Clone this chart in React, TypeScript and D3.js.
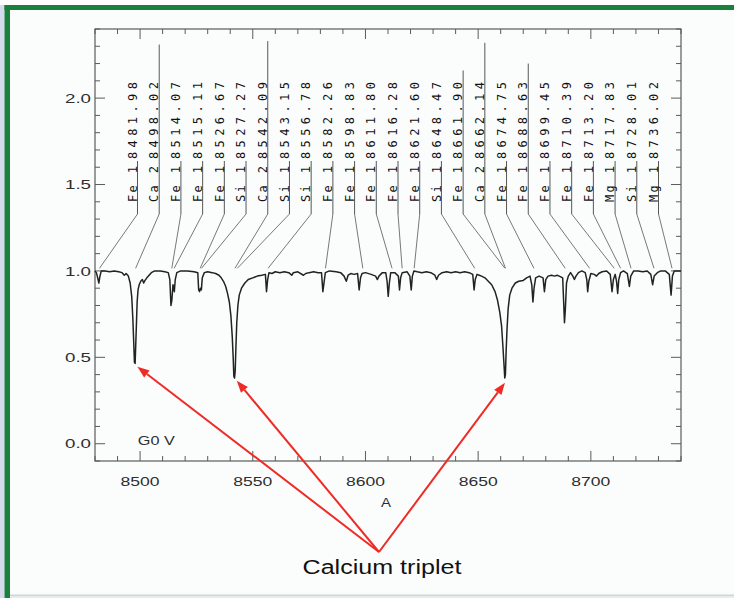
import React from 'react';
import * as d3 from 'd3';

// Spectrum of a G0 V star around the Ca II triplet: [wavelength (Å), normalised flux]
const spectrum: [number, number][] = [
  [8480.0, 1.0], [8480.6, 0.99], [8481.2, 0.96], [8481.7, 0.93], [8482.2, 0.97], [8482.8, 1.0],
  [8484.5, 1.0], [8486.5, 0.995], [8488.5, 1.0], [8490.5, 0.995], [8492.0, 0.99], [8493.0, 0.975],
  [8493.8, 0.985], [8494.8, 0.97], [8495.6, 0.93], [8496.3, 0.85], [8496.8, 0.72], [8497.2, 0.58],
  [8497.5, 0.47], [8497.8, 0.465], [8498.1, 0.58], [8498.4, 0.7], [8498.7, 0.82], [8499.1, 0.89],
  [8499.6, 0.92], [8500.3, 0.94], [8501.0, 0.95], [8501.6, 0.93], [8502.2, 0.945], [8503.0, 0.96],
  [8504.0, 0.975], [8505.0, 0.99], [8506.5, 1.0], [8509.0, 1.0], [8511.0, 0.995], [8512.5, 0.99],
  [8513.2, 0.95], [8513.7, 0.8], [8514.1, 0.83], [8514.6, 0.92], [8515.2, 0.88], [8515.6, 0.95],
  [8516.3, 0.99], [8518.0, 1.0], [8521.0, 1.0], [8524.0, 0.995], [8525.6, 0.99], [8526.0, 0.89],
  [8526.4, 0.88], [8526.8, 0.9], [8527.2, 0.89], [8527.6, 0.96], [8528.5, 0.99], [8530.0, 0.995],
  [8532.0, 0.99], [8533.5, 0.985], [8535.0, 0.975], [8536.0, 0.96], [8537.0, 0.94], [8538.0, 0.91],
  [8538.8, 0.87], [8539.6, 0.82], [8540.3, 0.74], [8540.9, 0.62], [8541.3, 0.5], [8541.6, 0.39],
  [8541.9, 0.38], [8542.2, 0.42], [8542.5, 0.55], [8542.9, 0.7], [8543.4, 0.8], [8544.0, 0.86],
  [8545.0, 0.9], [8546.5, 0.93], [8548.0, 0.95], [8550.0, 0.96], [8552.0, 0.97], [8554.0, 0.975],
  [8555.6, 0.98], [8556.1, 0.88], [8556.6, 0.95], [8557.2, 0.99], [8558.5, 0.985], [8560.0, 0.995],
  [8562.0, 0.99], [8564.0, 0.995], [8566.0, 0.99], [8567.3, 0.975], [8568.0, 0.99], [8570.0, 0.995],
  [8572.5, 0.975], [8573.5, 0.985], [8575.0, 0.99], [8577.0, 0.995], [8579.0, 0.99], [8580.5, 0.99],
  [8581.1, 0.88], [8581.6, 0.93], [8582.2, 0.99], [8584.0, 1.0], [8587.0, 0.995], [8589.0, 0.99],
  [8590.5, 0.97], [8591.5, 0.94], [8592.3, 0.975], [8593.5, 0.985], [8595.0, 0.98], [8596.5, 0.985],
  [8597.2, 0.89], [8597.8, 0.96], [8598.5, 0.985], [8600.0, 0.99], [8602.5, 0.98], [8604.5, 0.97],
  [8605.3, 0.95], [8606.0, 0.97], [8607.5, 0.99], [8609.0, 0.99], [8609.6, 0.94], [8610.1, 0.853],
  [8610.6, 0.93], [8611.2, 0.99], [8613.0, 0.99], [8614.6, 0.97], [8615.1, 0.89], [8615.6, 0.96],
  [8616.3, 0.99], [8618.5, 0.995], [8619.7, 0.97], [8620.3, 0.89], [8620.8, 0.97], [8621.5, 1.0],
  [8623.0, 0.995], [8625.0, 0.99], [8627.0, 0.995], [8629.0, 0.99], [8630.8, 0.975], [8631.6, 0.95],
  [8632.4, 0.975], [8634.0, 0.99], [8636.0, 0.995], [8638.0, 0.99], [8640.0, 0.995], [8642.0, 0.99],
  [8644.0, 0.995], [8646.0, 0.99], [8647.6, 0.98], [8648.2, 0.89], [8648.7, 0.95], [8649.5, 0.98],
  [8650.5, 0.975], [8651.5, 0.97], [8653.0, 0.96], [8654.5, 0.94], [8656.0, 0.92], [8657.5, 0.88],
  [8658.6, 0.83], [8659.6, 0.76], [8660.4, 0.68], [8661.0, 0.56], [8661.5, 0.45], [8661.8, 0.38],
  [8662.1, 0.4], [8662.4, 0.53], [8662.8, 0.66], [8663.3, 0.78], [8664.0, 0.86], [8665.0, 0.9],
  [8666.5, 0.93], [8668.0, 0.94], [8670.0, 0.945], [8671.5, 0.96], [8673.0, 0.97], [8673.8, 0.92],
  [8674.3, 0.82], [8674.8, 0.9], [8675.5, 0.96], [8677.0, 0.97], [8678.8, 0.96], [8679.4, 0.88],
  [8680.0, 0.95], [8681.0, 0.97], [8682.5, 0.975], [8684.0, 0.97], [8685.0, 0.975], [8686.0, 0.97],
  [8687.5, 0.96], [8688.0, 0.8], [8688.3, 0.7], [8688.7, 0.78], [8689.2, 0.93], [8690.0, 0.97],
  [8691.0, 0.99], [8692.0, 0.97], [8692.7, 0.95], [8693.4, 0.97], [8694.5, 0.99], [8696.0, 1.0],
  [8697.5, 0.99], [8698.2, 0.95], [8698.6, 0.88], [8699.1, 0.94], [8700.0, 0.985], [8701.5, 0.98],
  [8702.5, 0.97], [8703.5, 0.985], [8705.0, 0.995], [8707.0, 1.0], [8708.6, 0.98], [8709.4, 0.88],
  [8710.0, 0.95], [8710.8, 0.98], [8711.4, 0.94], [8711.9, 0.87], [8712.4, 0.95], [8713.2, 0.99],
  [8714.5, 1.0], [8716.2, 0.985], [8717.1, 0.91], [8717.7, 0.97], [8719.0, 1.0], [8721.0, 1.0],
  [8723.0, 0.995], [8725.0, 1.0], [8726.6, 0.98], [8727.4, 0.92], [8728.1, 0.97], [8729.5, 0.99],
  [8731.0, 1.0], [8733.0, 1.0], [8734.8, 0.98], [8735.6, 0.86], [8736.2, 0.97], [8737.0, 1.0],
  [8740.0, 1.0],
];

// Line identifications
const lineElements = [
  'Fe 1', 'Ca 2', 'Fe 1', 'Fe 1', 'Fe 1', 'Si 1', 'Ca 2', 'Si 1', 'Si 1', 'Fe 1', 'Fe 1', 'Fe 1', 'Fe 1',
  'Fe 1', 'Si 1', 'Fe 1', 'Ca 2', 'Fe 1', 'Fe 1', 'Fe 1', 'Fe 1', 'Fe 1', 'Mg 1', 'Si 1', 'Mg 1',
];
const lineWaves = [
  8481.98, 8498.02, 8514.07, 8515.11, 8526.67, 8527.27, 8542.09, 8543.15, 8556.78, 8582.26, 8598.83,
  8611.8, 8616.28, 8621.6, 8648.47, 8661.9, 8662.14, 8674.75, 8688.63, 8699.45, 8710.39, 8713.2,
  8717.83, 8728.01, 8736.02,
];
// top of the marker for strong lines (flux units); null = normal marker
const lineMarkTop: (number | null)[] = [
  null, 2.31, null, null, null, null, 2.33, null, null, null, null, null, null,
  null, null, 2.16, 2.32, null, 2.2, null, null, null, null, null, null,
];

const xMajorTicks = [8500, 8550, 8600, 8650, 8700];
const xTickLabels = ['8500', '8550', '8600', '8650', '8700'];
const yMajorTicks = [0, 0.5, 1.0, 1.5, 2.0];
const yTickLabels = ['0.0', '0.5', '1.0', '1.5', '2.0'];

// Calcium triplet arrow tips [wavelength, flux]
const arrowTips: [number, number][] = [
  [8498.8, 0.446],
  [8542.9, 0.365],
  [8661.9, 0.353],
];

const W = 734;
const H = 598;
const plot = { left: 95, right: 681, top: 29, bottom: 461 };

export default function App() {
  const x = d3.scaleLinear().domain([8480, 8740]).range([plot.left, plot.right]);
  const y = d3.scaleLinear().domain([-0.1, 2.4]).range([plot.bottom, plot.top]);

  const line = d3
    .line<[number, number]>()
    .x((d) => x(d[0]))
    .y((d) => y(d[1]));

  const xMinor = d3.range(8480, 8741, 10).filter((v) => v % 50 !== 0);
  const yMinor = d3
    .range(-1, 25)
    .map((v) => v / 10)
    .filter((v) => Math.abs((v * 10) % 5) > 1e-6);

  const slot = d3
    .scalePoint<number>()
    .domain(lineWaves.map((_, i) => i))
    .range([137.5, 658.5]);

  const axisColor = '#5a5a5a';
  const labelBottom = 214;
  const labelTextStart = 202;
  const numStart = 159;
  const markTopDefault = 161;
  const lineEndY = y(1.015);

  const apex = { x: 379, y: 552 };
  const red = '#ee2b25';

  return (
    <svg
      width={W}
      height={H}
      style={{ position: 'absolute', left: 0, top: 0, display: 'block' }}
      xmlns="http://www.w3.org/2000/svg"
    >
      {/* slide frame */}
      <rect x={0} y={0} width={W} height={H} fill="#fbfdfd" />
      <rect x={0} y={0} width={W} height={5} fill="#ffffff" />
      <rect x={0} y={5} width={4.5} height={H - 5} fill="#d6daee" />
      <rect x={4.5} y={5} width={W - 4.5} height={5} fill="#1b7f3d" />
      <rect x={4.5} y={5} width={5.5} height={H - 5} fill="#1b7f3d" />
      <rect x={10} y={594.5} width={W - 10} height={1.5} fill="#cdd8d6" />
      <rect x={10} y={596} width={W - 10} height={2} fill="#e6ecec" />

      {/* plot frame */}
      <rect
        x={plot.left}
        y={plot.top}
        width={plot.right - plot.left}
        height={plot.bottom - plot.top}
        fill="none"
        stroke={axisColor}
        strokeWidth={1.2}
      />

      {/* x ticks (bottom and top) and y ticks (left and right) */}
      <g stroke={axisColor} strokeWidth={1}>
        {xMajorTicks.map((v) => (
          <g key={`xM${v}`}>
            <line x1={x(v)} x2={x(v)} y1={plot.bottom} y2={plot.bottom - 10} />
            <line x1={x(v)} x2={x(v)} y1={plot.top} y2={plot.top + 10} />
          </g>
        ))}
        {xMinor.map((v) => (
          <g key={`xm${v}`}>
            <line x1={x(v)} x2={x(v)} y1={plot.bottom} y2={plot.bottom - 5} />
            <line x1={x(v)} x2={x(v)} y1={plot.top} y2={plot.top + 5} />
          </g>
        ))}
        {yMajorTicks.map((v) => (
          <g key={`yM${v}`}>
            <line x1={plot.left} x2={plot.left + 10} y1={y(v)} y2={y(v)} />
            <line x1={plot.right} x2={plot.right - 10} y1={y(v)} y2={y(v)} />
          </g>
        ))}
        {yMinor.map((v) => (
          <g key={`ym${v}`}>
            <line x1={plot.left} x2={plot.left + 5} y1={y(v)} y2={y(v)} />
            <line x1={plot.right} x2={plot.right - 5} y1={y(v)} y2={y(v)} />
          </g>
        ))}
      </g>

      {/* tick labels */}
      <g fontFamily="'Liberation Sans', Arial, sans-serif" fontSize={13} fill="#2e2e2e">
        {xMajorTicks.map((v, i) => (
          <text
            key={`xl${v}`}
            x={x(v)}
            y={486}
            textAnchor="middle"
            textLength={39}
            lengthAdjust="spacingAndGlyphs"
          >
            {xTickLabels[i]}
          </text>
        ))}
        {yMajorTicks.map((v, i) => (
          <text
            key={`yl${v}`}
            x={91}
            y={y(v)}
            dy="0.36em"
            textAnchor="end"
            textLength={26}
            lengthAdjust="spacingAndGlyphs"
          >
            {yTickLabels[i]}
          </text>
        ))}
        <text x={386} y={507} textAnchor="middle" textLength={10} lengthAdjust="spacingAndGlyphs">
          A
        </text>
        <text x={x(8499)} y={y(0) + 1.5} textLength={37} lengthAdjust="spacingAndGlyphs">
          G0 V
        </text>
      </g>

      {/* line identifications */}
      <g fontFamily="'DejaVu Sans Mono', monospace" fontSize={12} fill="#111">
        {lineWaves.map((wl, i) => {
          const sx = slot(i) as number;
          const top = lineMarkTop[i] != null ? y(lineMarkTop[i] as number) : markTopDefault;
          return (
            <g key={`lab${i}`}>
              <line x1={sx} x2={sx} y1={labelBottom} y2={top} stroke="#444" strokeWidth={0.9} />
              <line x1={sx} x2={x(wl)} y1={labelBottom} y2={lineEndY} stroke="#555" strokeWidth={0.8} />
              <text
                transform={`translate(${sx - 0.8},${labelTextStart}) rotate(-90)`}
                textLength={36}
                lengthAdjust="spacing"
              >
                {lineElements[i]}
              </text>
              <text
                transform={`translate(${sx - 0.8},${numStart}) rotate(-90)`}
                textLength={77}
                lengthAdjust="spacing"
              >
                {wl.toFixed(2)}
              </text>
            </g>
          );
        })}
      </g>

      {/* spectrum */}
      <path d={line(spectrum) as string} fill="none" stroke="#222" strokeWidth={1.5} strokeLinejoin="round" />

      {/* Calcium triplet annotation */}
      <g>
        {arrowTips.map((t, i) => {
          const tx = x(t[0]);
          const ty = y(t[1]);
          const ang = Math.atan2(ty - apex.y, tx - apex.x);
          const len = 12;
          const half = 4.5;
          const bx = tx - len * Math.cos(ang);
          const by = ty - len * Math.sin(ang);
          const px = -Math.sin(ang);
          const py = Math.cos(ang);
          return (
            <g key={`arr${i}`}>
              <line x1={apex.x} y1={apex.y} x2={bx} y2={by} stroke={red} strokeWidth={2} />
              <path
                d={`M${tx},${ty}L${bx + px * half},${by + py * half}L${bx - px * half},${by - py * half}Z`}
                fill={red}
              />
            </g>
          );
        })}
        <text
          x={382}
          y={574}
          textAnchor="middle"
          fontFamily="'Liberation Sans', Arial, sans-serif"
          fontSize={20}
          fill="#111"
          textLength={159}
          lengthAdjust="spacingAndGlyphs"
        >
          Calcium triplet
        </text>
      </g>
    </svg>
  );
}
